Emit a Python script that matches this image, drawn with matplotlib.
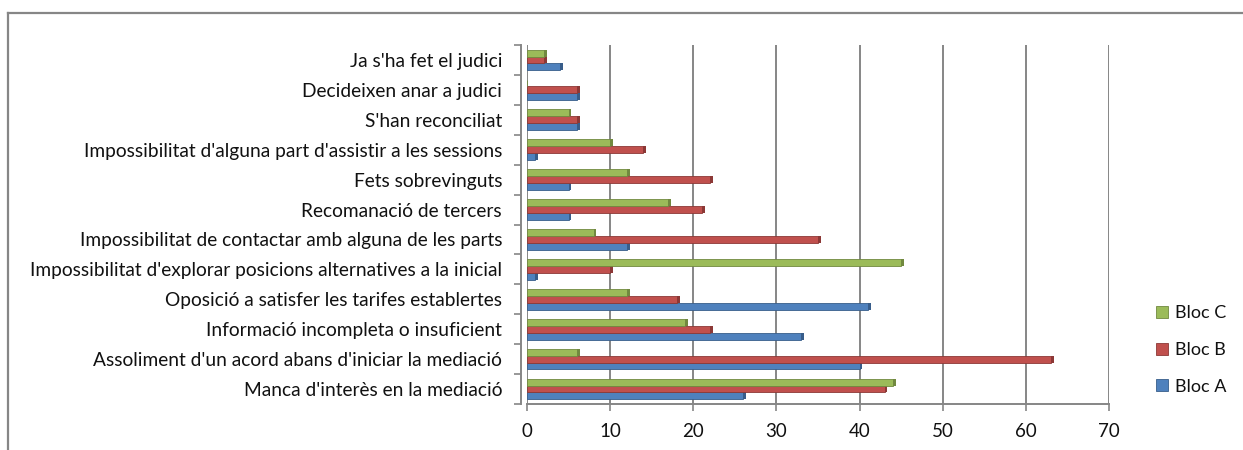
import matplotlib.pyplot as plt
from matplotlib.lines import Line2D
import numpy as np

plt.rcParams['font.family'] = ['Lato', 'DejaVu Sans']

# categories from bottom to top
categories = [
    "Manca d'interès en la mediació",
    "Assoliment d'un acord abans d'iniciar la mediació",
    "Informació incompleta o insuficient",
    "Oposició a satisfer les tarifes establertes",
    "Impossibilitat d'explorar posicions alternatives a la inicial",
    "Impossibilitat de contactar amb alguna de les parts",
    "Recomanació de tercers",
    "Fets sobrevinguts",
    "Impossibilitat d'alguna part d'assistir a les sessions",
    "S'han reconciliat",
    "Decideixen anar a judici",
    "Ja s'ha fet el judici",
]
bloc_a = [26, 40, 33, 41, 1, 12, 5, 5, 1, 6, 6, 4]
bloc_b = [43, 63, 22, 18, 10, 35, 21, 22, 14, 6, 6, 2]
bloc_c = [44, 6, 19, 12, 45, 8, 17, 12, 10, 5, 0, 2]
xticks = [0, 10, 20, 30, 40, 50, 60, 70]

col_a, col_b, col_c = "#4F81BD", "#C0504D", "#9BBB59"
dark_a, dark_b, dark_c = "#385D8A", "#8C3836", "#71893F"

fig = plt.figure(figsize=(12.43, 4.5), dpi=100)
W, H = 1243, 450
ax = fig.add_axes([527 / W, (H - 404) / H, (1109 - 527) / W, (404 - 45) / H])

y = np.arange(len(categories))
h = 0.23
for vals, off, c, d, lab in [(bloc_a, -h, col_a, dark_a, "Bloc A"),
                              (bloc_b, 0, col_b, dark_b, "Bloc B"),
                              (bloc_c, h, col_c, dark_c, "Bloc C")]:
    ax.barh(y + off, vals, height=h, color=c, edgecolor=d, linewidth=0.6,
            label=lab, zorder=3)
    # darker end face to mimic the 3D look
    ax.barh(y + off, [0.35 if v > 0 else 0 for v in vals], left=vals,
            height=h, color=d, linewidth=0, zorder=3)

ax.set_xlim(0, 70)
ax.set_ylim(-0.5, len(categories) - 0.5)
ax.set_xticks(xticks)
ax.set_yticks(y)
ax.set_yticklabels(categories)
ax.set_yticks(np.arange(-0.5, len(categories), 1), minor=True)
ax.tick_params(axis='y', which='major', length=0, pad=14, labelsize=13.8,
               labelcolor='#111111')
ax.tick_params(axis='y', which='minor', length=5, color='#868686', width=1.2)
ax.tick_params(axis='x', length=5, color='#868686', width=1.2, pad=9,
               labelsize=13.5, labelcolor='#111111')

ax.grid(axis='x', color='#868686', linewidth=1.4, zorder=0)
for s in ['top', 'right']:
    ax.spines[s].set_visible(False)
ax.spines['left'].set_color('#868686')
ax.spines['left'].set_linewidth(1.4)
ax.spines['left'].set_position(('outward', 4))
ax.spines['bottom'].set_color('#868686')
ax.spines['bottom'].set_linewidth(1.4)

handles, labels = ax.get_legend_handles_labels()
leg = fig.legend(handles[::-1], labels[::-1], loc='upper left',
                 bbox_to_anchor=(1140 / W, (H - 289) / H), frameon=False,
                 fontsize=13, handlelength=0.65, handleheight=0.65,
                 handletextpad=0.4, labelspacing=1.15)
for t in leg.get_texts():
    t.set_color('#111111')

# outer chart border
fig.add_artist(Line2D([8 / W, 8 / W], [0, (H - 13) / H], color='#868686',
                      linewidth=1.6))
fig.add_artist(Line2D([8 / W, 1], [(H - 13) / H, (H - 13) / H],
                      color='#868686', linewidth=1.6))

fig.savefig("out.png", dpi=100)
